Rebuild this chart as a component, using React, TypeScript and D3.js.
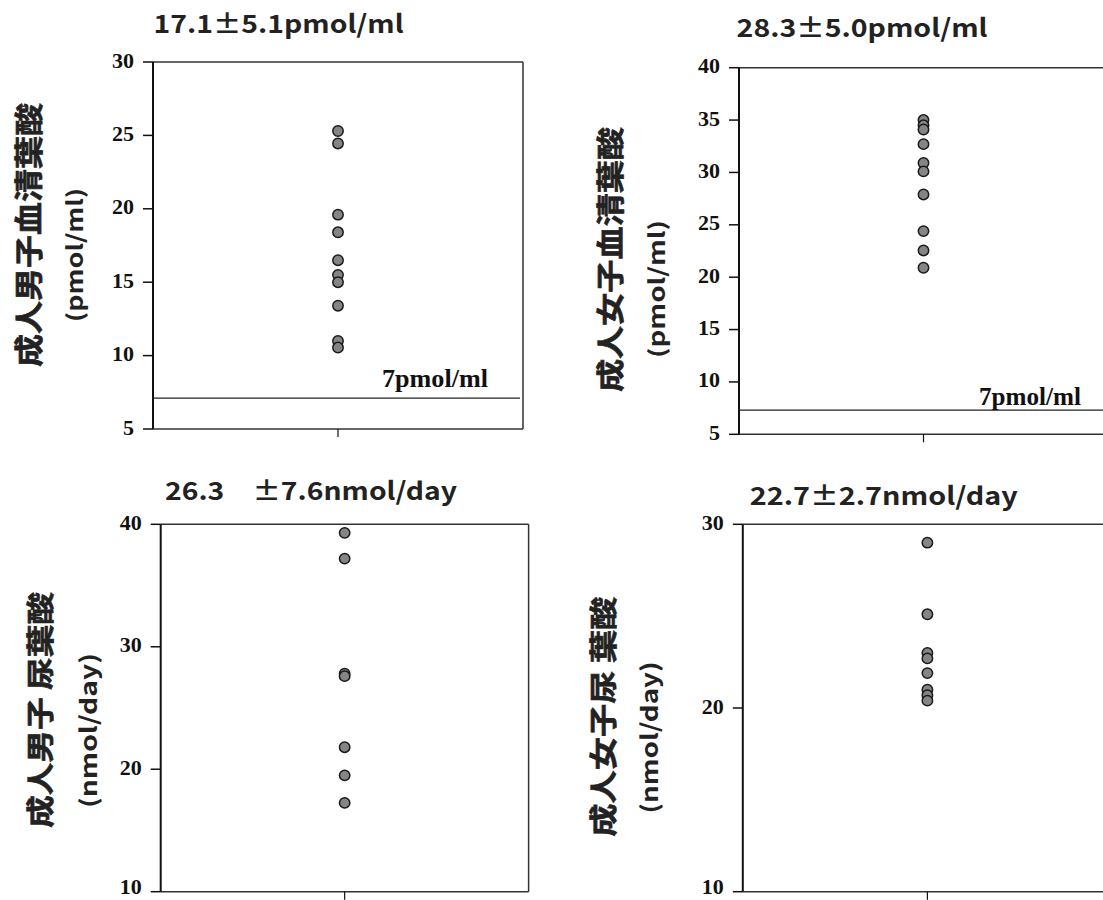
import React from "react";
import * as d3 from "d3";

// ---- data ----
const serumMale = [25.3, 24.45, 19.6, 18.4, 16.5, 15.5, 15.0, 13.4, 11.0, 10.55];
const serumFemale = [35.0, 34.5, 34.1, 32.7, 30.9, 30.1, 27.9, 24.4, 22.55, 20.9];
const urineMale = [39.3, 37.2, 27.8, 27.6, 21.8, 19.5, 17.25];
const urineFemale = [29.0, 25.1, 23.0, 22.7, 21.9, 21.0, 20.7, 20.4];

const serumMaleTicks = [5, 10, 15, 20, 25, 30];
const serumFemaleTicks = [5, 10, 15, 20, 25, 30, 35, 40];
const urineMaleTicks = [10, 20, 30, 40];
const urineFemaleTicks = [10, 20, 30];

const titles = ["17.1±5.1pmol/ml", "28.3±5.0pmol/ml", "26.3\u3000±7.6nmol/day", "22.7±2.7nmol/day"];
const yLabels = ["成人男子血清葉酸", "成人女子血清葉酸", "成人男子 尿葉酸", "成人女子尿 葉酸"];
const yUnits = ["(pmol/ml)", "(pmol/ml)", "(nmol/day)", "(nmol/day)"];
const refValues = [7.1, 7.3];
const refLabel = "7pmol/ml";

// ---- layout ----
const panels = [
  { values: serumMale, ticks: serumMaleTicks, domain: [5, 30], left: 153, right: 523, top: 62, bottom: 429,
    title: { x: 153.6, y: 33, len: 250 }, lab1: { x: 27, y: 235, len: 264, fs: 29 }, lab2: { x: 73, y: 255, len: 134, fs: 22 },
    ref: 0, refText: { x: 382, y: 386.5, len: 106, fs: 26 } },
  { values: serumFemale, ticks: serumFemaleTicks, domain: [5, 40], left: 739, right: 1108, top: 67.7, bottom: 434.3,
    title: { x: 736.6, y: 37, len: 251 }, lab1: { x: 609, y: 259.5, len: 265, fs: 28 }, lab2: { x: 655, y: 289, len: 138, fs: 22 },
    ref: 1, refText: { x: 979, y: 405, len: 102, fs: 25 } },
  { values: urineMale, ticks: urineMaleTicks, domain: [10, 40], left: 160.7, right: 528.6, top: 524.3, bottom: 891.7,
    title: { x: 165, y: 500, len: 292 }, lab1: { x: 39, y: 710, len: 236, fs: 28 }, lab2: { x: 87, y: 730.5, len: 155, fs: 23 },
    ref: -1, refText: null },
  { values: urineFemale, ticks: urineFemaleTicks, domain: [10, 30], left: 742.8, right: 1112, top: 524.3, bottom: 891.7,
    title: { x: 749.8, y: 505, len: 268 }, lab1: { x: 602, y: 716.7, len: 240, fs: 28 }, lab2: { x: 648, y: 737.5, len: 152, fs: 23 },
    ref: -1, refText: null },
];

const serif = "'Liberation Serif', 'Times New Roman', serif";
const gothic = "'Noto Sans CJK JP', 'Noto Sans', sans-serif";

function Panel({ p, i }: { p: any; i: number }) {
  const y = d3.scaleLinear().domain(p.domain).range([p.bottom, p.top]);
  const x = d3.scaleLinear().domain([0, 2]).range([p.left, p.right]);
  const cx = x(1);
  return (
    <g>
      {/* frame */}
      <line x1={p.left} x2={p.right} y1={p.top} y2={p.top} stroke="#333" strokeWidth={1.5} />
      <line x1={p.left} x2={p.right} y1={p.bottom} y2={p.bottom} stroke="#333" strokeWidth={1.5} />
      <line x1={p.right} x2={p.right} y1={p.top} y2={p.bottom} stroke="#333" strokeWidth={1.5} />
      <line x1={p.left} x2={p.left} y1={p.top} y2={p.bottom} stroke="#111" strokeWidth={2} />
      {/* y ticks */}
      {p.ticks.map((t: number) => (
        <g key={t}>
          <line x1={p.left - 10} x2={p.left} y1={y(t)} y2={y(t)} stroke="#111" strokeWidth={1.5} />
          <text x={p.left - 19} y={Math.min(y(t) - 2, 886)} textAnchor="end" dominantBaseline="central"
            fontFamily={serif} fontWeight="bold" fontSize={22} fill="#111">{t}</text>
        </g>
      ))}
      {/* x tick */}
      <line x1={cx} x2={cx} y1={p.bottom} y2={p.bottom + 8} stroke="#111" strokeWidth={1.2} />
      {/* reference line */}
      {p.ref >= 0 && (
        <g>
          <line x1={p.left} x2={Math.min(p.right - 3, 1103)} y1={y(refValues[p.ref])} y2={y(refValues[p.ref])}
            stroke="#222" strokeWidth={1.3} />
          <text x={p.refText.x} y={p.refText.y} fontFamily={serif} fontWeight="bold" fontSize={p.refText.fs} fill="#111"
            textLength={p.refText.len} lengthAdjust="spacingAndGlyphs">{refLabel}</text>
        </g>
      )}
      {/* dots */}
      {p.values.map((v: number, k: number) => (
        <circle key={k} cx={cx} cy={y(v)} r={5.2} fill="#858585" stroke="#1a1a1a" strokeWidth={1.5} />
      ))}
      {/* title */}
      <text x={p.title.x} y={p.title.y} fontFamily={gothic} fontWeight="bold" fontSize={25} fill="#222"
        textLength={p.title.len} lengthAdjust="spacingAndGlyphs">{titles[i]}</text>
      {/* y labels */}
      <text transform={`translate(${p.lab1.x},${p.lab1.y}) rotate(-90)`} textAnchor="middle" dominantBaseline="central"
        fontFamily={gothic} fontWeight="bold" fontSize={p.lab1.fs} fill="#222" stroke="#222" strokeWidth={0.6}
        textLength={p.lab1.len} lengthAdjust="spacingAndGlyphs">{yLabels[i]}</text>
      <text transform={`translate(${p.lab2.x},${p.lab2.y}) rotate(-90)`} textAnchor="middle" dominantBaseline="central"
        fontFamily={gothic} fontWeight="bold" fontSize={p.lab2.fs} fill="#222"
        textLength={p.lab2.len} lengthAdjust="spacingAndGlyphs">{yUnits[i]}</text>
    </g>
  );
}

export default function App() {
  return (
    <svg width={1103} height={900} style={{ position: "absolute", left: 0, top: 0, background: "#fff" }}>
      <rect x={0} y={0} width={1103} height={900} fill="#fff" />
      {panels.map((p, i) => (
        <Panel key={i} p={p} i={i} />
      ))}
    </svg>
  );
}
